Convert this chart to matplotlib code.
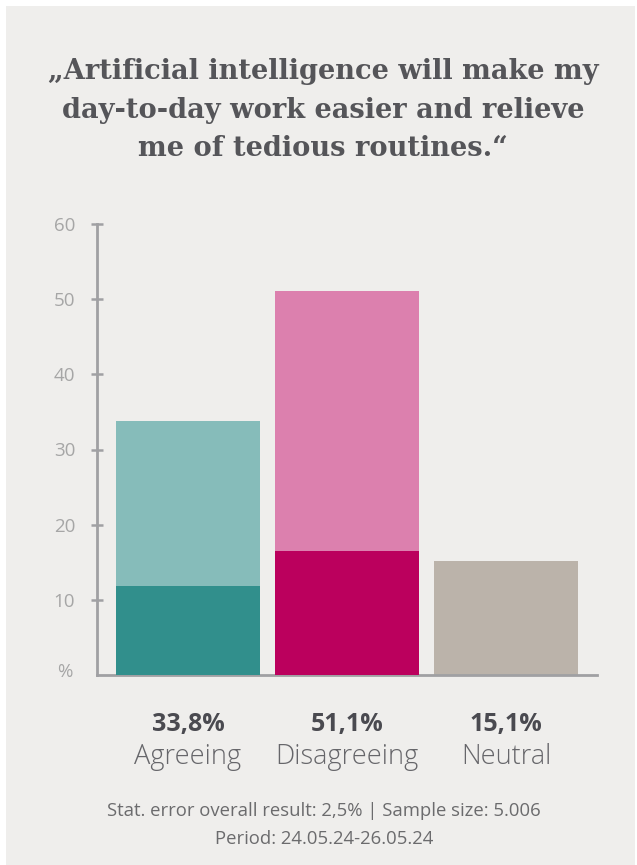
import matplotlib.pyplot as plt
from matplotlib.patches import Rectangle

# survey results, percent of respondents
categories = ["Agreeing", "Disagreeing", "Neutral"]
totals = [33.8, 51.1, 15.1]
strong_shares = [11.8, 16.5]
total_labels = ["33,8%", "51,1%", "15,1%"]
y_ticks = [10, 20, 30, 40, 50, 60]

title = ("\u201eArtificial intelligence will make my\n"
         "day-to-day work easier and relieve\n"
         "me of tedious routines.\u201c")
footer = ("Stat. error overall result: 2,5% | Sample size: 5.006\n"
          "Period: 24.05.24-26.05.24")

BG = "#efeeec"
AXIS = "#a0a0a3"
light_colors = ["#86bcba", "#dc80ae", "#bbb3aa"]
dark_colors = ["#318f8c", "#bb005d"]

W, H = 637, 865
fig = plt.figure(figsize=(W / 100, H / 100), dpi=100, facecolor="white")
fig.add_artist(Rectangle((6 / W, 0), (635 - 6) / W, 1 - 6 / H,
                         transform=fig.transFigure, facecolor=BG,
                         edgecolor="none", zorder=-5))

ax = fig.add_axes([97 / W, (H - 675) / H, (597 - 97) / W, (675 - 224) / H])
ax.set_zorder(1)
ax.set_facecolor("none")

x = list(range(len(categories)))
ax.bar(x, totals, width=0.906, color=light_colors, zorder=2)
ax.bar(x[:2], strong_shares, width=0.906, color=dark_colors, zorder=3)

ax.set_xlim(-0.572, 2.572)
ax.set_ylim(0, 60)

for side in ("top", "right"):
    ax.spines[side].set_visible(False)
for side in ("left", "bottom"):
    ax.spines[side].set_color(AXIS)
    ax.spines[side].set_linewidth(2.0)
ax.spines["left"].set_bounds(0, 60)

ax.set_xticks([])
ax.set_yticks(y_ticks)
ax.set_yticklabels([str(t) for t in y_ticks])
ax.tick_params(axis="y", direction="inout", length=8.5, width=1.8,
               color=AXIS, labelcolor="#a6a6a6", labelsize=13.5, pad=11.5)
for lbl in ax.get_yticklabels():
    lbl.set_family("Open Sans")
ax.text(-0.048, 0.006, "%", transform=ax.transAxes, ha="right",
        va="center", fontsize=13.5, color="#a6a6a6", family="Open Sans")

# value and category labels under each bar
for xi, name, val in zip(x, categories, total_labels):
    ax.annotate(val, (xi, 0), xytext=(0, -56), textcoords="offset pixels",
                ha="center", va="baseline", fontsize=18, fontweight="bold",
                color="#4a4a50", family="Open Sans", annotation_clip=False)
    ax.annotate(name, (xi, 0), xytext=(0, -89), textcoords="offset pixels",
                ha="center", va="baseline", fontsize=19.5, fontweight="light",
                color="#66666a", family="Open Sans", annotation_clip=False)

fig.text(323 / W, 1 - 110 / H, title, ha="center", va="center",
         fontsize=19.6, fontweight="bold", color="#555559",
         family="DejaVu Serif", linespacing=1.56)
fig.text(324 / W, 1 - 825 / H, footer, ha="center", va="center",
         fontsize=13.3, color="#6b6b6d", family="Open Sans",
         linespacing=1.72)

fig.savefig("out.png", dpi=100, facecolor="white")
